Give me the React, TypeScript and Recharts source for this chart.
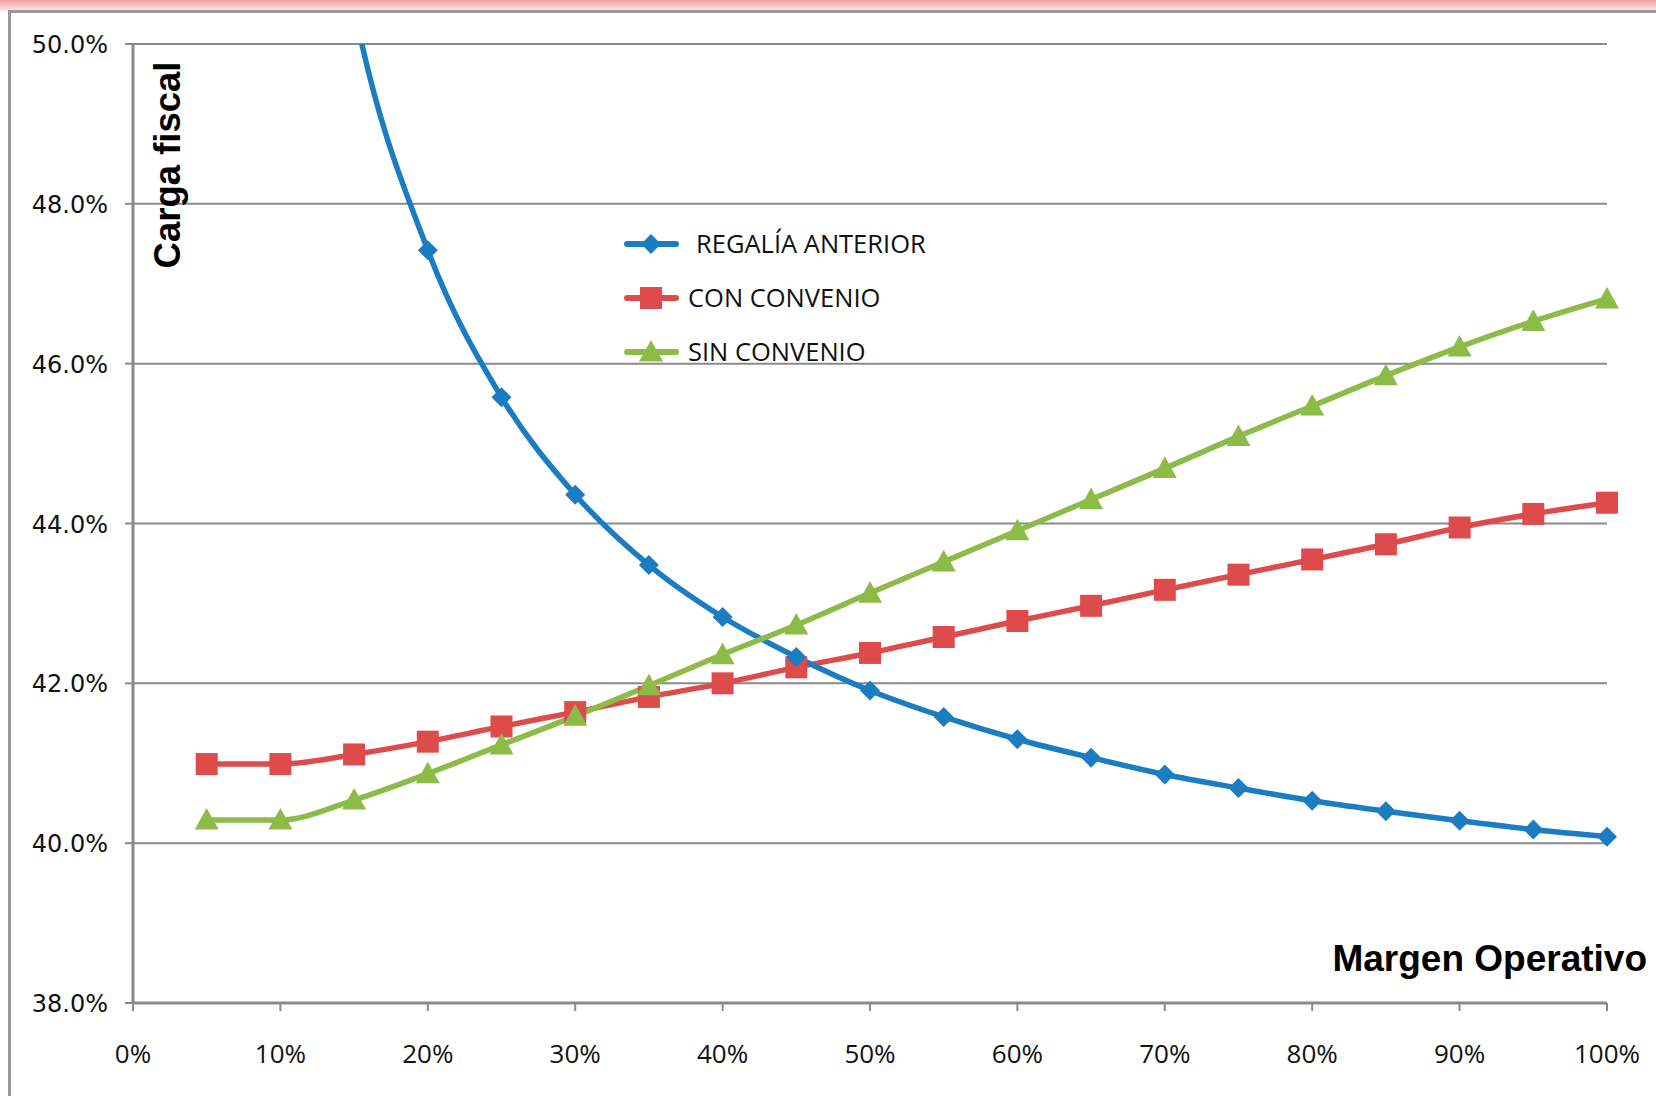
import React from 'react';
import { LineChart, Line, XAxis, YAxis, CartesianGrid } from 'recharts';

const margins = [5, 10, 15, 20, 25, 30, 35, 40, 45, 50, 55, 60, 65, 70, 75, 80, 85, 90, 95, 100];
const regaliaAnterior = [74.8, 56.5, 50.45, 47.42, 45.58, 44.36, 43.48, 42.83, 42.33, 41.91, 41.58, 41.3, 41.07, 40.86, 40.69, 40.53, 40.4, 40.28, 40.17, 40.08];
const conConvenio = [40.99, 40.99, 41.11, 41.27, 41.46, 41.64, 41.83, 42.0, 42.2, 42.38, 42.58, 42.78, 42.97, 43.17, 43.36, 43.55, 43.74, 43.95, 44.12, 44.26];
const sinConvenio = [40.29, 40.29, 40.54, 40.87, 41.23, 41.59, 41.97, 42.36, 42.73, 43.13, 43.52, 43.91, 44.3, 44.69, 45.09, 45.47, 45.85, 46.21, 46.53, 46.81];
const xTicks = [0, 10, 20, 30, 40, 50, 60, 70, 80, 90, 100];
const yTicks = [38, 40, 42, 44, 46, 48, 50];

const data = margins.map((m, i) => ({
  m,
  regalia: regaliaAnterior[i],
  con: conConvenio[i],
  sin: sinConvenio[i],
}));

const BLUE = '#1b7dc1';
const RED = '#de4b4b';
const GREEN = '#8cbb47';
const GRID = '#8a8a8a';

const Diamond = ({ cx, cy, fill, size = 11 }: any) =>
  cx == null || cy == null ? null : (
    <path d={`M${cx},${cy - size} L${cx + size},${cy} L${cx},${cy + size} L${cx - size},${cy} Z`} fill={fill} />
  );

const Square = ({ cx, cy, fill, size = 11 }: any) =>
  cx == null || cy == null ? null : <rect x={cx - size} y={cy - size} width={size * 2} height={size * 2} fill={fill} />;

const Triangle = ({ cx, cy, fill, size = 12 }: any) =>
  cx == null || cy == null ? null : (
    <path d={`M${cx},${cy - size} L${cx + size},${cy + size * 0.8} L${cx - size},${cy + size * 0.8} Z`} fill={fill} />
  );

const items = [
  { label: 'REGALÍA ANTERIOR', color: BLUE, Shape: Diamond, textX: 74, size: 10 },
  { label: 'CON CONVENIO', color: RED, Shape: Square, textX: 66, size: 11 },
  { label: 'SIN CONVENIO', color: GREEN, Shape: Triangle, textX: 66, size: 12 },
];

const LegendBox = () => (
  <svg width={340} height={150} style={{ position: 'absolute', left: 622, top: 226 }}>
    {items.map((it, i) => {
      const y = 18 + i * 54;
      const Shape = it.Shape;
      return (
        <g key={it.label}>
          <line x1={5} x2={54} y1={y} y2={y} stroke={it.color} strokeWidth={6} strokeLinecap="round" />
          <Shape cx={29} cy={y} fill={it.color} size={it.size} />
          <text x={it.textX} y={y + 9} fontSize={25.5} fontFamily="Open Sans" fill="#111">
            {it.label}
          </text>
        </g>
      );
    })}
  </svg>
);

const YTick = ({ x, y, payload }: any) => (
  <text x={x} y={y + 9} textAnchor="end" fontSize={24} fontFamily="DejaVu Sans" fill="#111">
    {payload.value.toFixed(1)}%
  </text>
);

const XTick = ({ x, y, payload }: any) => (
  <text x={x} y={y + 50} textAnchor="middle" fontSize={26} fontFamily="Open Sans" fill="#111">
    {payload.value}%
  </text>
);

export default function App() {
  return (
    <div style={{ position: 'absolute', left: 0, top: 0, width: 1656, height: 1096, background: '#fff', overflow: 'hidden' }}>
      <div style={{ position: 'absolute', left: 0, top: 0, width: 1656, height: 11, background: 'linear-gradient(#f4a0a0, #fde6e6)' }} />
      <div style={{ position: 'absolute', left: 8, top: 10, width: 1700, height: 1200, borderLeft: '3px solid #999', borderTop: '3px solid #999' }} />
      <LineChart
        width={1656}
        height={1096}
        data={data}
        margin={{ top: 44, right: 49, left: 0, bottom: 0 }}
        style={{ position: 'absolute', left: 0, top: 0 }}
      >
        <CartesianGrid horizontal vertical={false} stroke={GRID} strokeWidth={2} />
        <XAxis
          dataKey="m"
          type="number"
          domain={[0, 100]}
          ticks={xTicks}
          height={93}
          axisLine={{ stroke: GRID, strokeWidth: 3 }}
          tickLine={{ stroke: GRID, strokeWidth: 2 }}
          tickSize={8}
          tick={<XTick />}
          interval={0}
        />
        <YAxis
          type="number"
          domain={[38, 50]}
          ticks={yTicks}
          allowDataOverflow
          width={133}
          axisLine={{ stroke: GRID, strokeWidth: 3 }}
          tickLine={{ stroke: GRID, strokeWidth: 2 }}
          tickSize={8}
          tickMargin={17}
          tick={<YTick />}
          interval={0}
        />
        <Line
          type="monotone"
          dataKey="con"
          name="CON CONVENIO"
          stroke={RED}
          strokeWidth={5.5}
          dot={<Square fill={RED} size={11} />}
          isAnimationActive={false}
        />
        <Line
          type="monotone"
          dataKey="regalia"
          name="REGALÍA ANTERIOR"
          stroke={BLUE}
          strokeWidth={5.5}
          dot={<Diamond fill={BLUE} size={10} />}
          isAnimationActive={false}
        />
        <Line
          type="monotone"
          dataKey="sin"
          name="SIN CONVENIO"
          stroke={GREEN}
          strokeWidth={5.5}
          dot={<Triangle fill={GREEN} size={12} />}
          isAnimationActive={false}
        />
        <text x={180} y={165} transform="rotate(-90 180 165)" textAnchor="middle" fontSize={36.5} fontWeight="bold" fontFamily="Liberation Sans" fill="#000">
          Carga fiscal
        </text>
        <text x={1647} y={971} textAnchor="end" fontSize={37} fontWeight="bold" fontFamily="Liberation Sans" fill="#000">
          Margen Operativo
        </text>
      </LineChart>
      <LegendBox />
    </div>
  );
}
